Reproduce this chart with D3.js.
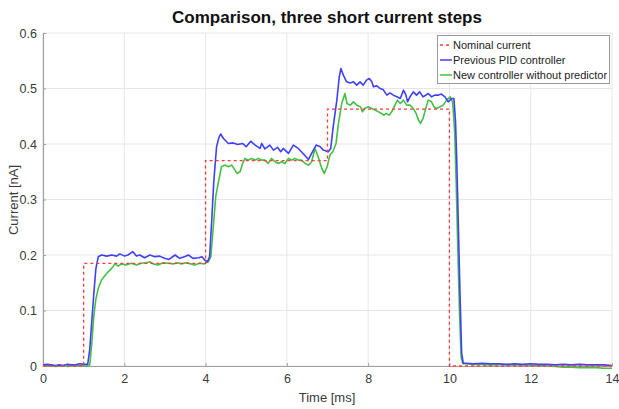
<!DOCTYPE html>
<html><head><meta charset="utf-8">
<script src="https://cdn.jsdelivr.net/npm/d3@7"></script>
<style>
html,body{margin:0;padding:0;background:#fff;}
svg{display:block;font-family:"Liberation Sans",Arial,sans-serif;}
</style></head>
<body><svg id="chart" width="619" height="409"></svg>
<script>
const xTicks = [0, 2, 4, 6, 8, 10, 12, 14];
const yTicks = [0, 0.1, 0.2, 0.3, 0.4, 0.5, 0.6];
const seriesNames = ["Nominal current", "Previous PID controller", "New controller without predictor"];

const nominalT = [0, 1, 1, 4, 4, 7, 7, 10, 10, 14];
const nominalV = [0, 0, 0.185, 0.185, 0.37, 0.37, 0.463, 0.463, 0, 0];

const pidT = [0,0.1,0.2,0.3,0.4,0.5,0.6,0.7,0.8,0.9,1.0,1.1,1.15,1.2,1.25,1.3,1.36,1.44,1.57,1.69,1.81,1.89,2.01,2.09,2.21,2.3,2.38,2.5,2.63,2.75,2.87,2.99,3.1,3.25,3.36,3.48,3.58,3.69,3.83,3.91,3.99,4.05,4.1,4.15,4.2,4.27,4.33,4.37,4.44,4.56,4.68,4.79,4.91,5.0,5.11,5.22,5.34,5.38,5.46,5.58,5.67,5.77,5.85,5.91,6.04,6.16,6.28,6.4,6.53,6.61,6.72,6.82,6.9,7.02,7.08,7.14,7.23,7.29,7.33,7.39,7.47,7.56,7.64,7.72,7.8,7.88,7.96,8.03,8.09,8.13,8.21,8.29,8.37,8.46,8.54,8.62,8.71,8.79,8.87,8.93,8.97,9.03,9.11,9.19,9.27,9.35,9.48,9.56,9.64,9.72,9.8,9.89,9.97,10.06,10.11,10.15,10.18,10.22,10.26,10.3,10.34,10.4,10.6,10.8,11.0,11.2,11.4,11.6,11.8,12.0,12.2,12.4,12.6,12.8,13.0,13.2,13.4,13.6,13.8,14.0];
const pidV = [0.002,0.003,0.002,0.001,0.002,0.001,0.003,0.002,0.002,0.004,0.003,0.003,0.03,0.08,0.13,0.175,0.197,0.2,0.198,0.2,0.198,0.202,0.198,0.2,0.206,0.198,0.2,0.195,0.2,0.197,0.198,0.194,0.192,0.2,0.194,0.197,0.2,0.194,0.195,0.197,0.19,0.188,0.197,0.26,0.33,0.395,0.412,0.418,0.41,0.401,0.402,0.399,0.401,0.395,0.405,0.398,0.392,0.401,0.391,0.398,0.389,0.394,0.386,0.392,0.383,0.398,0.392,0.383,0.372,0.383,0.398,0.395,0.389,0.386,0.392,0.431,0.479,0.521,0.536,0.524,0.512,0.51,0.512,0.506,0.512,0.506,0.515,0.518,0.512,0.503,0.505,0.5,0.498,0.488,0.492,0.488,0.485,0.482,0.497,0.488,0.476,0.485,0.494,0.488,0.494,0.485,0.491,0.485,0.488,0.488,0.49,0.485,0.476,0.482,0.482,0.44,0.371,0.251,0.131,0.023,0.005,0.005,0.004,0.005,0.004,0.004,0.003,0.004,0.003,0.004,0.003,0.003,0.002,0.003,0.002,0.003,0.002,0.002,0.002,0.001];

const newT = [0,0.1,0.2,0.3,0.4,0.5,0.6,0.7,0.8,0.9,1.0,1.1,1.15,1.2,1.25,1.3,1.36,1.44,1.57,1.69,1.77,1.85,1.93,2.05,2.17,2.3,2.42,2.54,2.63,2.71,2.83,2.95,3.08,3.2,3.32,3.4,3.52,3.64,3.73,3.85,3.97,4.07,4.13,4.19,4.25,4.31,4.39,4.48,4.56,4.64,4.7,4.77,4.85,4.91,4.97,5.05,5.13,5.22,5.3,5.38,5.46,5.54,5.62,5.71,5.79,5.87,5.95,6.04,6.12,6.2,6.28,6.36,6.45,6.53,6.61,6.69,6.77,6.86,6.92,6.99,7.06,7.13,7.21,7.27,7.35,7.43,7.48,7.56,7.64,7.72,7.81,7.86,7.92,8.0,8.09,8.17,8.25,8.33,8.39,8.44,8.52,8.58,8.66,8.72,8.79,8.87,8.95,9.03,9.11,9.18,9.24,9.29,9.35,9.44,9.48,9.56,9.62,9.68,9.77,9.85,9.93,10.02,10.08,10.13,10.17,10.21,10.25,10.29,10.33,10.4,10.6,10.8,11.0,11.2,11.4,11.6,11.8,12.0,12.2,12.4,12.6,12.8,13.0,13.2,13.4,13.6,13.8,14.0];
const newV = [0.0,0.001,0.0,-0.001,0.0,0.001,-0.001,0.0,0.0,0.001,0.0,0.0,0.002,0.04,0.09,0.12,0.14,0.155,0.167,0.176,0.184,0.18,0.184,0.182,0.185,0.182,0.185,0.186,0.188,0.184,0.182,0.186,0.185,0.184,0.186,0.184,0.186,0.184,0.182,0.185,0.184,0.188,0.197,0.251,0.305,0.329,0.359,0.362,0.359,0.362,0.356,0.347,0.35,0.365,0.374,0.371,0.374,0.371,0.374,0.371,0.371,0.365,0.374,0.368,0.365,0.368,0.365,0.374,0.371,0.374,0.371,0.371,0.365,0.362,0.368,0.392,0.377,0.356,0.347,0.359,0.38,0.386,0.401,0.437,0.473,0.491,0.473,0.47,0.476,0.47,0.467,0.458,0.464,0.467,0.464,0.461,0.458,0.455,0.452,0.455,0.452,0.458,0.47,0.479,0.473,0.479,0.47,0.47,0.464,0.455,0.443,0.437,0.446,0.47,0.479,0.476,0.467,0.464,0.467,0.47,0.479,0.485,0.475,0.42,0.32,0.2,0.09,0.015,0.004,0.004,0.003,0.003,0.002,0.003,0.002,0.002,0.002,0.001,0.001,0.0,-0.001,-0.002,-0.002,-0.003,-0.003,-0.003,-0.004,-0.004];

const colors = ["#ff3b3b", "#4040f5", "#45c045"];

const svg = d3.select("#chart");
const m = {left: 43, right: 612, top: 33, bottom: 366};
const x = d3.scaleLinear().domain([0, 14]).range([m.left, m.right]);
const y = d3.scaleLinear().domain([0, 0.6]).range([m.bottom, m.top]);

const textCol = "#3a3a3a";
// grid
const grid = svg.append("g");
grid.selectAll("line.gx").data(xTicks).join("line")
  .attr("x1", d => x(d)).attr("x2", d => x(d)).attr("y1", m.top).attr("y2", m.bottom)
  .attr("stroke", "#e6e6e6").attr("stroke-width", 1);
grid.selectAll("line.gy").data(yTicks).join("line")
  .attr("x1", m.left).attr("x2", m.right).attr("y1", d => y(d)).attr("y2", d => y(d))
  .attr("stroke", "#e6e6e6").attr("stroke-width", 1);

// axes
const xAxis = d3.axisBottom(x).tickValues(xTicks).tickSizeInner(-3).tickSizeOuter(0).tickPadding(8).tickFormat(d3.format("d"));
const yAxis = d3.axisLeft(y).tickValues(yTicks).tickSizeInner(-3).tickSizeOuter(0).tickPadding(6).tickFormat(d => d === 0 ? "0" : d3.format(".1f")(d));
const gx = svg.append("g").attr("transform", `translate(0,${m.bottom})`).call(xAxis);
const gy = svg.append("g").attr("transform", `translate(${m.left},0)`).call(yAxis);
[gx, gy].forEach(g => {
  g.select(".domain").attr("stroke", "#a0a0a0").attr("stroke-width", 1.2);
  g.selectAll(".tick line").attr("stroke", "#a0a0a0");
  g.selectAll(".tick text").attr("fill", textCol).style("font-size", "12.5px").style("font-family", "'Liberation Sans',Arial,sans-serif");
});

// lines
const line = d3.line().x(d => x(d[0])).y(d => y(d[1]));
const plot = svg.append("g");
plot.append("path").datum(newT.map((t, i) => [t, newV[i]]))
  .attr("d", line).attr("fill", "none").attr("stroke", colors[2]).attr("stroke-width", 1.6).attr("stroke-linejoin", "round");
plot.append("path").datum(pidT.map((t, i) => [t, pidV[i]]))
  .attr("d", line).attr("fill", "none").attr("stroke", colors[1]).attr("stroke-width", 1.6).attr("stroke-linejoin", "round");
plot.append("path").datum(nominalT.map((t, i) => [t, nominalV[i]]))
  .attr("d", line).attr("fill", "none").attr("stroke", colors[0]).attr("stroke-width", 1.3).attr("stroke-dasharray", "3,3");

// title & labels
svg.append("text").attr("x", 327).attr("y", 23).attr("text-anchor", "middle")
  .style("font-size", "17px").style("font-weight", "bold").attr("fill", "#111")
  .text("Comparison, three short current steps");
svg.append("text").attr("x", 327).attr("y", 402).attr("text-anchor", "middle")
  .style("font-size", "13px").attr("fill", textCol).text("Time [ms]");
svg.append("text").attr("transform", "translate(18,200) rotate(-90)").attr("text-anchor", "middle")
  .style("font-size", "13px").attr("fill", textCol).text("Current [nA]");

// legend
const lg = svg.append("g");
lg.append("rect").attr("x", 437.5).attr("y", 35.5).attr("width", 172).attr("height", 48)
  .attr("fill", "#fff").attr("stroke", "#9a9a9a").attr("stroke-width", 1);
seriesNames.forEach((name, i) => {
  const yy = 45 + i * 15;
  lg.append("line").attr("x1", 440).attr("x2", 452).attr("y1", yy).attr("y2", yy)
    .attr("stroke", colors[i]).attr("stroke-width", i === 0 ? 1.3 : 1.5)
    .attr("stroke-dasharray", i === 0 ? "3,3" : null);
  lg.append("text").attr("x", 453).attr("y", yy + 4).style("font-size", "11px").attr("fill", "#222").text(name);
});
</script></body></html>
